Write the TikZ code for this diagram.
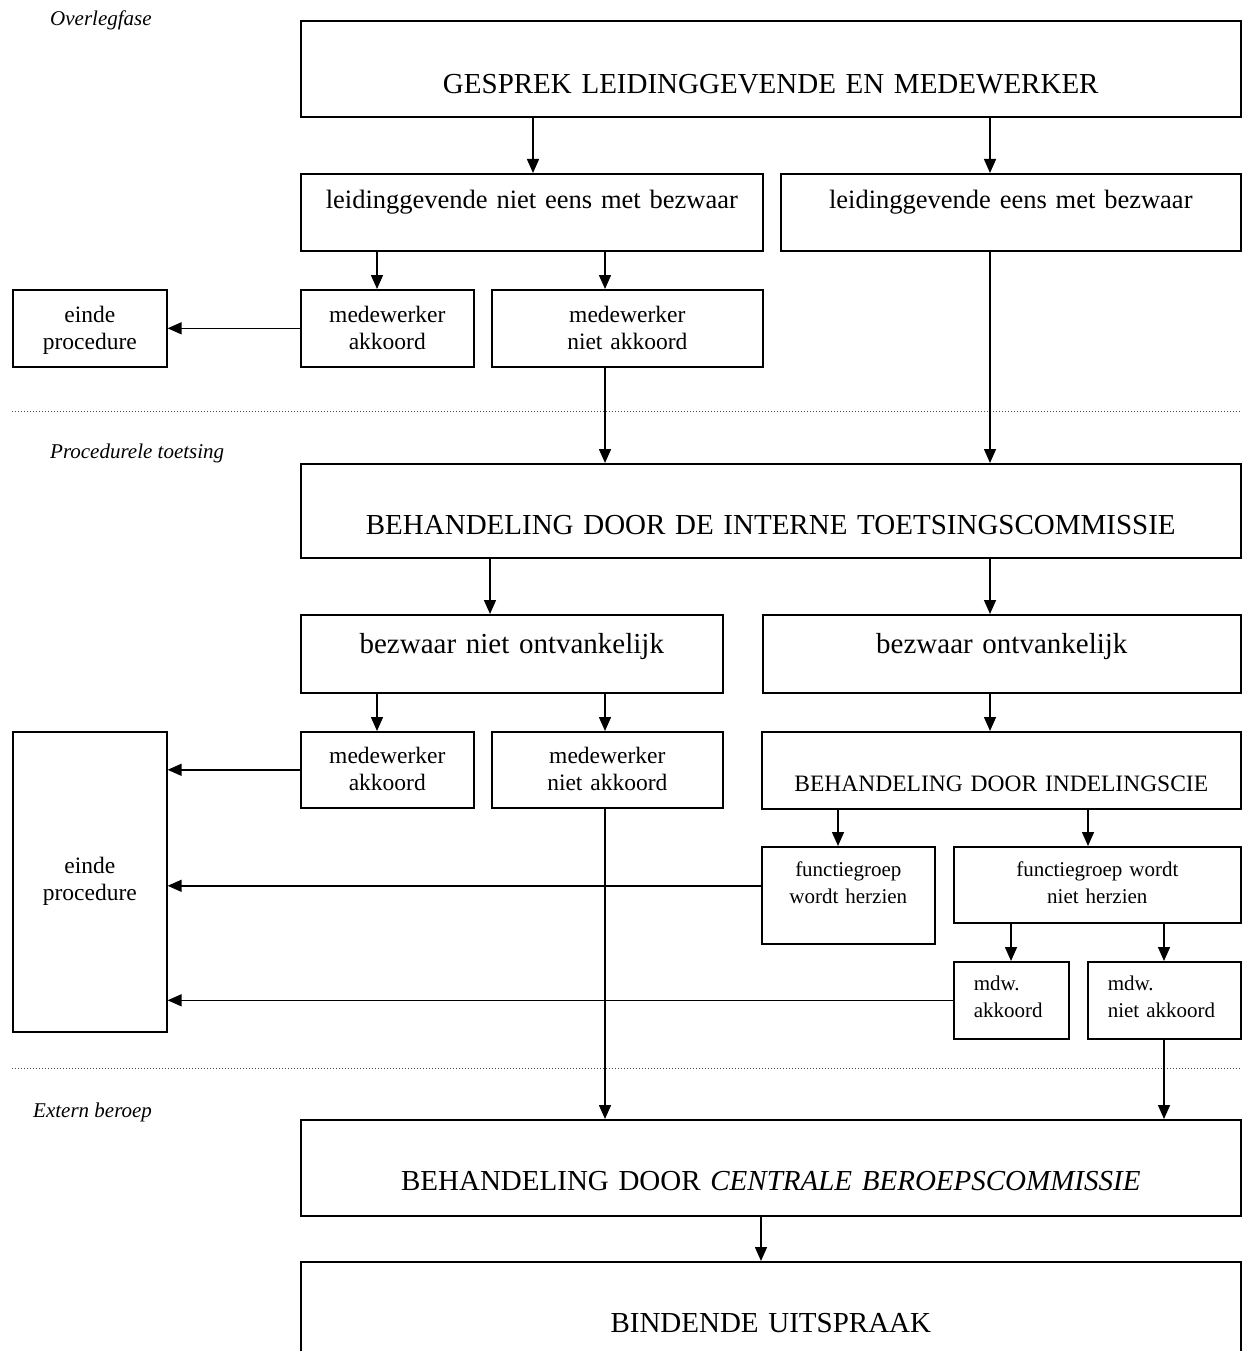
\documentclass[tikz,border=0pt]{standalone}
\usepackage{fontspec}
\setmainfont{Liberation Serif}
\usetikzlibrary{arrows.meta}

\newcommand\fontcaps{\fontsize{29}{34}\selectfont}
\newcommand\fontmid{\fontsize{26.5}{30}\selectfont}
\newcommand\fontsmall{\fontsize{23.5}{27}\selectfont}
\newcommand\fonttiny{\fontsize{21}{26.5}\selectfont}

\tikzset{
  box/.style={draw, line width=1.6pt, inner sep=0pt, align=center, anchor=north west},
  flow/.style={-{Triangle[length=14pt,width=12pt]}, line width=1.5pt},
  fase/.style={font=\fontsize{21}{25}\selectfont\itshape, anchor=base west, inner sep=0pt},
  divider/.style={line width=1pt, dash pattern=on 1pt off 2pt, black!70}
}

\begin{document}
\begin{tikzpicture}[x=1pt,y=-1pt]
\useasboundingbox (0,0) rectangle (1242,1351);
\clip (0,0) rectangle (1242,1351);

% fase labels
\node[fase] (overleg) at (50,26) {Overlegfase};
\node[fase] (toetsing) at (50,458) {Procedurele toetsing};
\node[fase] (extern) at (33,1117) {Extern beroep};

\draw[divider] (12,411) -- (1240,411);
\draw[divider] (12,1068) -- (1240,1068);

% overlegfase
\node[box, font=\fontcaps, text width=940pt, text height=73pt, text depth=23pt] (gesprek) at (300,20) {GESPREK LEIDINGGEVENDE EN MEDEWERKER};
\node[box, font=\fontmid, text width=462pt, text height=35pt, text depth=42pt] (nieteens) at (300,173) {leidinggevende niet eens met bezwaar};
\node[box, font=\fontmid, text width=460pt, text height=35pt, text depth=42pt] (eens) at (780,173) {leidinggevende eens met bezwaar};
\node[box, font=\fontsmall, text width=154pt, text height=33pt, text depth=44pt] (einde1) at (12,289) {einde\\procedure};
\node[box, font=\fontsmall, text width=173pt, text height=33pt, text depth=44pt] (mwak1) at (300,289) {medewerker\\akkoord};
\node[box, font=\fontsmall, text width=271pt, text height=33pt, text depth=44pt] (mwnak1) at (491,289) {medewerker\\niet akkoord};

% procedurele toetsing
\node[box, font=\fontcaps, text width=940pt, text height=71pt, text depth=23pt] (interne) at (300,463) {BEHANDELING DOOR DE INTERNE TOETSINGSCOMMISSIE};
\node[box, font=\fontcaps, text width=422pt, text height=39pt, text depth=39pt] (bno) at (300,614) {bezwaar niet ontvankelijk};
\node[box, font=\fontcaps, text width=478pt, text height=39pt, text depth=39pt] (bo) at (762,614) {bezwaar ontvankelijk};
\node[box, font=\fontsmall, text width=173pt, text height=32pt, text depth=44pt] (mwak2) at (300,731) {medewerker\\akkoord};
\node[box, font=\fontsmall, text width=231pt, text height=32pt, text depth=44pt] (mwnak2) at (491,731) {medewerker\\niet akkoord};
\node[box, font=\fontsmall, text width=154pt, text height=142pt, text depth=158pt] (einde2) at (12,731) {einde\\procedure};
\node[box, font=\fontsmall, text width=479pt, text height=60pt, text depth=17pt] (indeling) at (761,731) {BEHANDELING DOOR INDELINGSCIE};
\node[box, font=\fonttiny, text width=173pt, text height=30pt, text depth=67pt] (fgh) at (761,846) {functiegroep\\wordt herzien};
\node[box, font=\fonttiny, text width=287pt, text height=30pt, text depth=46pt] (fgnh) at (953,846) {functiegroep wordt\\niet herzien};
\node[box, font=\fonttiny, align=left, inner xsep=20pt, text width=75pt, text height=29pt, text depth=48pt] (mdwak) at (953,961) {mdw.\\akkoord};
\node[box, font=\fonttiny, align=left, inner xsep=20pt, text width=113pt, text height=29pt, text depth=48pt] (mdwnak) at (1087,961) {mdw.\\niet akkoord};

% extern beroep
\node[box, font=\fontcaps, text width=940pt, text height=71pt, text depth=25pt] (cbc) at (300,1119) {BEHANDELING DOOR \textit{CENTRALE BEROEPSCOMMISSIE}};
\node[box, font=\fontcaps, text width=940pt, text height=71pt, text depth=40pt] (bindend) at (300,1261) {BINDENDE UITSPRAAK};

% connectors
\draw[flow] ([xshift=233pt]gesprek.south west) -- ([xshift=233pt]nieteens.north west);
\draw[flow] ([xshift=690pt]gesprek.south west) -- ([xshift=210pt]eens.north west);
\draw[flow] ([xshift=77pt]nieteens.south west) -- ([xshift=77pt]mwak1.north west);
\draw[flow] ([xshift=305pt]nieteens.south west) -- ([xshift=114pt]mwnak1.north west);
\draw[flow] (mwak1.west) -- (einde1.east);
\draw[flow] ([xshift=114pt]mwnak1.south west) -- ([xshift=305pt]interne.north west);
\draw[flow] ([xshift=210pt]eens.south west) -- ([xshift=690pt]interne.north west);
\draw[flow] ([xshift=190pt]interne.south west) -- ([xshift=190pt]bno.north west);
\draw[flow] ([xshift=690pt]interne.south west) -- ([xshift=228pt]bo.north west);
\draw[flow] ([xshift=77pt]bno.south west) -- ([xshift=77pt]mwak2.north west);
\draw[flow] ([xshift=305pt]bno.south west) -- ([xshift=114pt]mwnak2.north west);
\draw[flow] ([xshift=228pt]bo.south west) -- ([xshift=229pt]indeling.north west);
\draw[flow] (mwak2.west) -- (mwak2.west -| einde2.east);
\draw[flow] ([xshift=77pt]indeling.south west) -- ([xshift=77pt]fgh.north west);
\draw[flow] ([xshift=327pt]indeling.south west) -- ([xshift=135pt]fgnh.north west);
\draw[flow] ([yshift=9.5pt]fgh.west) -- ([yshift=9.5pt]fgh.west -| einde2.east);
\draw[flow] ([xshift=58pt]fgnh.south west) -- ([xshift=58pt]mdwak.north west);
\draw[flow] ([xshift=211pt]fgnh.south west) -- ([xshift=77pt]mdwnak.north west);
\draw[flow] (mdwak.west) -- (mdwak.west -| einde2.east);
\draw[flow] ([xshift=114pt]mwnak2.south west) -- ([xshift=305pt]cbc.north west);
\draw[flow] ([xshift=77pt]mdwnak.south west) -- ([xshift=864pt]cbc.north west);
\draw[flow] ([xshift=461pt]cbc.south west) -- ([xshift=461pt]bindend.north west);
\end{tikzpicture}
\end{document}
